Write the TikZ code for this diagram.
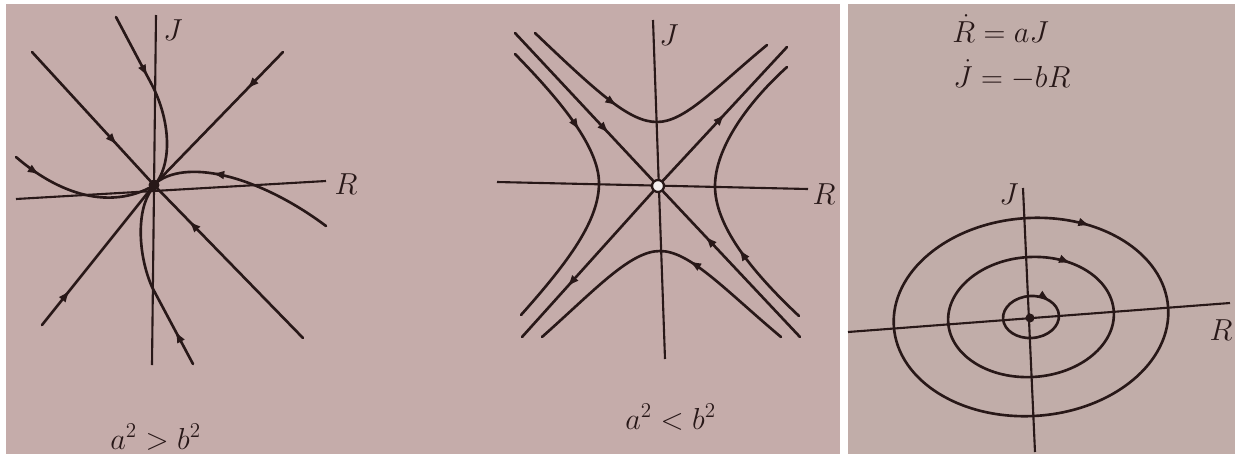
\documentclass[tikz,border=0pt]{standalone}
\usetikzlibrary{arrows.meta,decorations.markings}
\definecolor{paper}{RGB}{197,172,170}
\definecolor{paperb}{RGB}{193,173,169}
\definecolor{ink}{RGB}{40,24,24}
\begin{document}
\begin{tikzpicture}[x=0.02cm,y=-0.02cm,
  curve/.style={draw=ink,color=ink,line width=1.5pt,line cap=round},
  axis/.style={draw=ink,line width=1.2pt},
  arrowat/.style={postaction={decorate},decoration={markings,mark=at position #1 with {\arrow{Latex[length=7pt,width=5pt]}}}},
  lbl/.style={text=ink,font=\fontsize{16}{19}\selectfont,inner sep=0pt},
  big/.style={text=ink,font=\fontsize{18}{21}\selectfont,inner sep=0pt},
  eqn/.style={text=ink,font=\fontsize{17}{20}\selectfont,inner sep=0pt}]
\useasboundingbox (0,0) rectangle (1235,454);
\fill[white] (0,0) rectangle (1235,454);
\fill[paper] (6,4) rectangle (840,454);
\fill[paperb] (848,4) rectangle (1235,454);

% ---------- panel 1 : node ----------
\coordinate (c1) at (154,185);
\draw[axis] (156,15) -- (152,365);
\draw[axis] (16,199) -- (326,181);
\draw[curve,arrowat=0.7] (32,52) -- (c1);
\draw[curve,arrowat=0.77] (303,338) -- (c1);
\draw[curve,arrowat=0.28] (283,52) -- (c1);
\draw[curve,arrowat=0.25] (42,325) -- (c1);
\draw[curve,arrowat=0.38] (116,17) -- (152,85) .. controls (170,120) and (172,160) .. (157,182);
\draw[curve,arrowat=0.2] (193,364) -- (152,287) .. controls (138,255) and (136,210) .. (152,189);
\draw[curve,arrowat=0.2] (16,157) .. controls (60,195) and (110,210) .. (153,186);
\draw[curve,arrowat=0.69] (326,226) .. controls (262,178) and (190,158) .. (157,182);
\fill[ink] (c1) circle[radius=0.11cm];
\node[lbl] (J1) at (173,30) {$J$};
\node[lbl] (R1) at (346,184) {$R$};
\node[big,anchor=base west] (cap1) at (110,449) {$a^2>b^2$};

% ---------- panel 2 : saddle ----------
\coordinate (c2) at (658,186);
\draw[axis] (653,20) -- (665,359);
\draw[axis] (497,182) -- (808,189);
\draw[curve,arrowat=0.66] (515,33) -- (c2);
\draw[curve,arrowat=0.67] (800,337) -- (c2);
\draw[curve,arrowat=0.52] (c2) -- (787,47);
\draw[curve,arrowat=0.67] (c2) -- (522,337);
\draw[curve,arrowat=0.38] (535,33) .. controls (600,95) and (630,122) .. (657,122) .. controls (685,122) and (715,88) .. (767,45);
\draw[curve,arrowat=0.4] (781,337) .. controls (725,290) and (690,251) .. (660,251) .. controls (630,251) and (595,290) .. (542,337);
\draw[curve,arrowat=0.32] (515,54) .. controls (555,95) and (599,145) .. (599,183) .. controls (599,220) and (570,260) .. (521,315);
\draw[curve,arrowat=0.3] (799,316) .. controls (750,270) and (715,225) .. (715,186) .. controls (715,150) and (745,105) .. (787,67);
\draw[ink,line width=1.3pt,fill=white!80!paper] (c2) circle[radius=0.12cm];
\node[lbl] (J2) at (669,35) {$J$};
\node[lbl] (R2) at (824,194) {$R$};
\node[big,anchor=base west] (cap2) at (625,429) {$a^2<b^2$};

% ---------- panel 3 : centre ----------
\coordinate (c3) at (1030,318);
\draw[axis] (848,332) -- (1230,303);
\draw[axis] (1023,188) -- (1035,452);
\begin{scope}[shift={(1031,317)},rotate=4]
  \draw[curve,arrowat=0.84] (0:2.75cm) arc[start angle=0,end angle=-360,x radius=2.75cm,y radius=1.98cm];
  \draw[curve,arrowat=0.85] (0:1.66cm) arc[start angle=0,end angle=-360,x radius=1.66cm,y radius=1.2cm];
  \draw[curve,arrowat=0.89] (0:0.56cm) arc[start angle=0,end angle=-360,x radius=0.56cm,y radius=0.42cm];
\end{scope}
\fill[ink] (c3) circle[radius=0.09cm];
\node[big] (J3) at (1009,194) {$J$};
\node[big] (R3) at (1221,330) {$R$};
\node[eqn,anchor=base west] (eq1) at (952,42) {$\dot R=aJ$};
\node[eqn,anchor=base west] (eq2) at (953,87) {$\dot J=-bR$};
\end{tikzpicture}
\end{document}
